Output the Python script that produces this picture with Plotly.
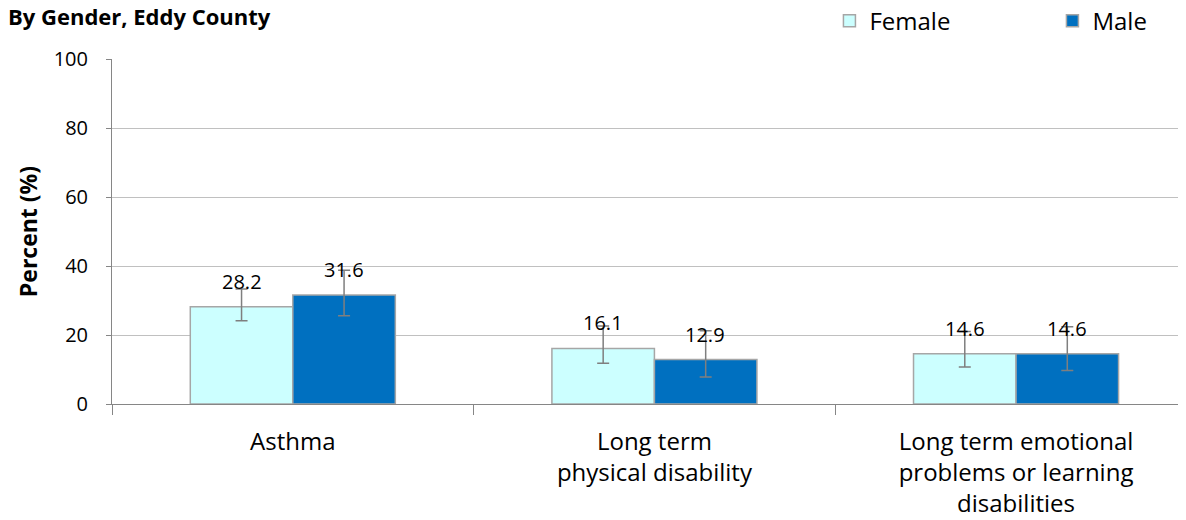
import plotly.graph_objects as go

categories = ["Asthma", "Long term physical disability",
              "Long term emotional problems or learning disabilities"]
tick_labels = ["Asthma", "Long term<br>physical disability",
               "Long term emotional<br>problems or learning<br>disabilities"]

female = [28.2, 16.1, 14.6]
female_lo = [24.1, 11.8, 10.7]
female_hi = [33.3, 22.6, 21.0]

male = [31.6, 12.9, 14.6]
male_lo = [25.6, 7.8, 9.7]
male_hi = [38.8, 21.2, 22.4]

FONT = "Open Sans, Arial, sans-serif"
female_color = "#CCFFFF"
male_color = "#0070C0"
outline = "#A6A6A6"
err_color = "#7F7F7F"

fig = go.Figure()


def add_series(name, vals, lo, hi, color):
    fig.add_trace(
        go.Bar(
            x=categories,
            y=vals,
            name=name,
            marker=dict(color=color, line=dict(color=outline, width=1.5)),
            error_y=dict(
                type="data",
                symmetric=False,
                array=[h - v for h, v in zip(hi, vals)],
                arrayminus=[v - l for v, l in zip(vals, lo)],
                color=err_color,
                thickness=1.5,
                width=6,
            ),
        )
    )


add_series("Female", female, female_lo, female_hi, female_color)
add_series("Male", male, male_lo, male_hi, male_color)

# value labels above the bars
for vals, shift in ((female, -51), (male, 51)):
    for cat, v in zip(categories, vals):
        fig.add_annotation(
            x=cat, y=v, text=f"{v:.1f}", showarrow=False,
            xshift=shift, yshift=10, yanchor="bottom",
            font=dict(family=FONT, size=20, color="black"),
        )

# the page body has an 8px margin, so the figure is 8px smaller
fig.update_layout(
    width=1178,
    height=512,
    plot_bgcolor="white",
    paper_bgcolor="white",
    margin=dict(l=104, r=0, t=51, b=116, autoexpand=False),
    barmode="group",
    bargap=0.433,
    bargroupgap=0,
    font=dict(family=FONT, size=20, color="black"),
    title=dict(
        text="<b>By Gender, Eddy County</b>",
        x=0, xref="container", xanchor="left",
        y=1, yref="container", yanchor="top",
        pad=dict(t=2, l=0),
        font=dict(family=FONT, size=22, color="black"),
    ),
    legend=dict(
        orientation="h",
        x=0.668, xanchor="left",
        y=1.11, yanchor="middle",
        entrywidth=178, entrywidthmode="pixels",
        font=dict(family=FONT, size=24, color="black"),
        bgcolor="rgba(0,0,0,0)",
    ),
    xaxis=dict(
        tickmode="array",
        tickvals=categories,
        ticktext=tick_labels,
        range=[-0.5, 2.47],
        tickson="boundaries",
        ticks="outside",
        ticklen=10,
        tickcolor="#868686",
        showline=True,
        linecolor="#868686",
        linewidth=1,
        showgrid=False,
        ticklabelstandoff=16,
        tickfont=dict(family=FONT, size=24, color="black"),
    ),
    yaxis=dict(
        range=[0, 100],
        dtick=20,
        ticks="outside",
        ticklen=5,
        tickcolor="#868686",
        showline=True,
        linecolor="#868686",
        linewidth=1,
        gridcolor="#C0C0C0",
        gridwidth=1,
        zeroline=False,
        ticklabelstandoff=14,
        tickfont=dict(family=FONT, size=20, color="black"),
        title=dict(
            text="<b>Percent (%)</b>",
            standoff=9,
            font=dict(family=FONT, size=23, color="black"),
        ),
    ),
)

fig.write_html("out.html")
